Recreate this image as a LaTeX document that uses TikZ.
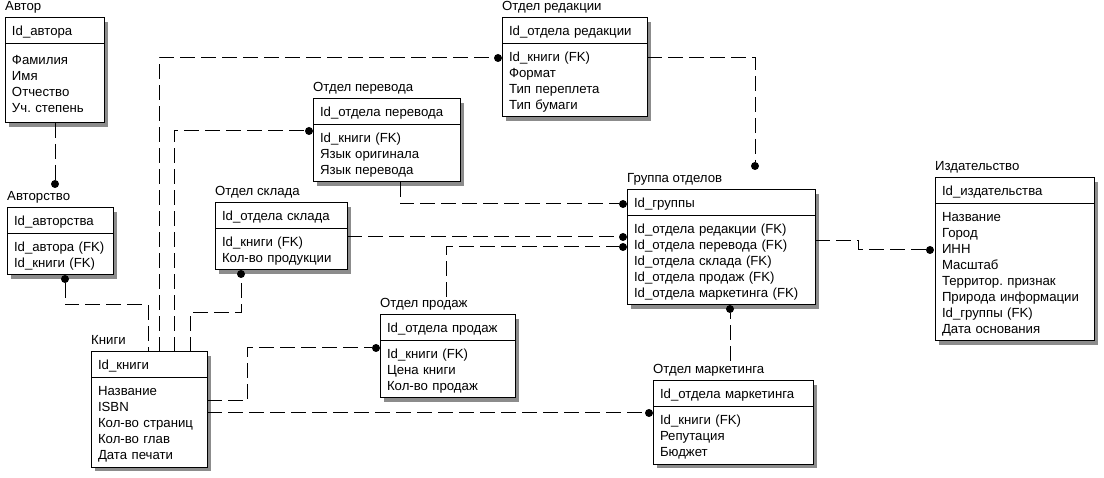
\documentclass[tikz,border=0pt]{standalone}
\usepackage{fontspec}
\setmainfont{Liberation Sans}
\usetikzlibrary{positioning}
\newcommand\rowstrut{\rule[-3pt]{0pt}{16pt}}

\begin{document}
\begin{tikzpicture}[
x=1pt, y=-1pt,
font=\fontsize{13.2pt}{16pt}\selectfont\frenchspacing,
tblkey/.style={draw, fill=white, anchor=north west, align=left, text width=#1,
  inner xsep=7pt, inner ysep=5pt, outer sep=0pt, line width=1pt,
  preaction={fill=black!45, transform canvas={xshift=4pt, yshift=-4pt}},
  execute at begin node={\hyphenpenalty=10000\exhyphenpenalty=10000\rowstrut},
  execute at end node=\rowstrut},
tblattr/.style={tblkey=#1, anchor=north, inner ysep=4.5pt},
tbltitle/.style={anchor=base west, inner sep=0pt},
fkdot/.style={circle, fill, inner sep=0pt, minimum size=8pt},
rel/.style={line width=1pt, dash pattern=on 15pt off 6pt}
]
\useasboundingbox (0,0) rectangle (1104,478);

% tables
\node[tblkey=85pt] (avtorA) at (5,18) {Id\_автора};
\node[tblattr=85pt, below=0pt of avtorA, minimum height=79pt] (avtorB) {Фамилия\\Имя\\Отчество\\Уч. степень};
\node[tbltitle, above=7pt of avtorA.north west, anchor=base west] (avtorT) {Автор};

\node[tblkey=92pt] (avtstA) at (7,208) {Id\_авторства};
\node[tblattr=92pt, below=0pt of avtstA] (avtstB) {Id\_автора (FK)\\Id\_книги (FK)};
\node[tbltitle, above=7pt of avtstA.north west, anchor=base west] (avtstT) {Авторство};

\node[tblkey=118pt] (sklA) at (215,203) {Id\_отдела склада};
\node[tblattr=118pt, below=0pt of sklA] (sklB) {Id\_книги (FK)\\Кол-во продукции};
\node[tbltitle, above=7pt of sklA.north west, anchor=base west] (sklT) {Отдел склада};

\node[tblkey=133pt] (perA) at (313,99) {Id\_отдела перевода};
\node[tblattr=133pt, below=0pt of perA] (perB) {Id\_книги (FK)\\Язык оригинала\\Язык перевода};
\node[tbltitle, above=7pt of perA.north west, anchor=base west] (perT) {Отдел перевода};

\node[tblkey=131pt] (redA) at (502,18) {Id\_отдела редакции};
\node[tblattr=131pt, below=0pt of redA] (redB) {Id\_книги (FK)\\Формат\\Тип переплета\\Тип бумаги};
\node[tbltitle, above=7pt of redA.north west, anchor=base west] (redT) {Отдел редакции};

\node[tblkey=174pt] (grA) at (627,190) {Id\_группы};
\node[tblattr=174pt, below=0pt of grA] (grB) {Id\_отдела редакции (FK)\\Id\_отдела перевода (FK)\\Id\_отдела склада (FK)\\Id\_отдела продаж (FK)\\Id\_отдела маркетинга (FK)};
\node[tbltitle, above=7pt of grA.north west, anchor=base west] (grT) {Группа отделов};

\node[tblkey=145pt] (izdA) at (935,178) {Id\_издательства};
\node[tblattr=145pt, below=0pt of izdA] (izdB) {Название\\Город\\ИНН\\Масштаб\\Территор. признак\\Природа информации\\Id\_группы (FK)\\Дата основания};
\node[tbltitle, above=7pt of izdA.north west, anchor=base west] (izdT) {Издательство};

\node[tblkey=102pt] (knigiA) at (91,352) {Id\_книги};
\node[tblattr=102pt, below=0pt of knigiA] (knigiB) {Название\\ISBN\\Кол-во страниц\\Кол-во глав\\Дата печати};
\node[tbltitle, above=7pt of knigiA.north west, anchor=base west] (knigiT) {Книги};

\node[tblkey=121pt] (prodA) at (380,315) {Id\_отдела продаж};
\node[tblattr=121pt, below=0pt of prodA] (prodB) {Id\_книги (FK)\\Цена книги\\Кол-во продаж};
\node[tbltitle, above=7pt of prodA.north west, anchor=base west] (prodT) {Отдел продаж};

\node[tblkey=146pt] (markA) at (653,381) {Id\_отдела маркетинга};
\node[tblattr=146pt, below=0pt of markA] (markB) {Id\_книги (FK)\\Репутация\\Бюджет};
\node[tbltitle, above=7pt of markA.north west, anchor=base west] (markT) {Отдел маркетинга};

% FK ends
\node[fkdot] (d1) at (55,184) {};
\node[fkdot] (d2) at (65,279) {};
\node[fkdot] (d3) at (498,58) {};
\node[fkdot] (d4) at (309,131) {};
\node[fkdot] (d5) at (241,274) {};
\node[fkdot] (d6) at (376,348) {};
\node[fkdot] (d7) at (649,413) {};
\node[fkdot] (d8) at (623,204) {};
\node[fkdot] (d9) at (623,237) {};
\node[fkdot] (d10) at (623,247) {};
\node[fkdot] (d11) at (755,166) {};
\node[fkdot] (d12) at (730,309) {};
\node[fkdot] (d13) at (930,250) {};

% relations
\draw[rel] (avtorB.south -| d1) -- (d1);
\draw[rel] (d2) -- ++(0,26) -| ([xshift=57pt]knigiA.north west);
\draw[rel] ([xshift=68pt]knigiA.north west) |- (d3);
\draw[rel] ([xshift=83pt]knigiA.north west) |- (d4);
\draw[rel] ([xshift=99pt]knigiA.north west) -- ++(0,-39) -| (d5);
\draw[rel] ([yshift=-23pt]knigiB.north east) -- ++(40,0) |- (d6);
\draw[rel] (d7 -| knigiB.east) -- (d7);
\draw[rel] ([xshift=87pt]perB.south west) |- (d8);
\draw[rel] (d9 -| sklB.east) -- (d9);
\draw[rel] ([xshift=66pt,yshift=18pt]prodA.north west) |- (d10);
\draw[rel] ([yshift=-14pt]redB.north east) -| (d11);
\draw[rel] ([xshift=77pt,yshift=20pt]markA.north west) -- (d12);
\draw[rel] ([yshift=-25pt]grB.north east) -- ++(43,0) |- (d13);

\end{tikzpicture}
\end{document}
